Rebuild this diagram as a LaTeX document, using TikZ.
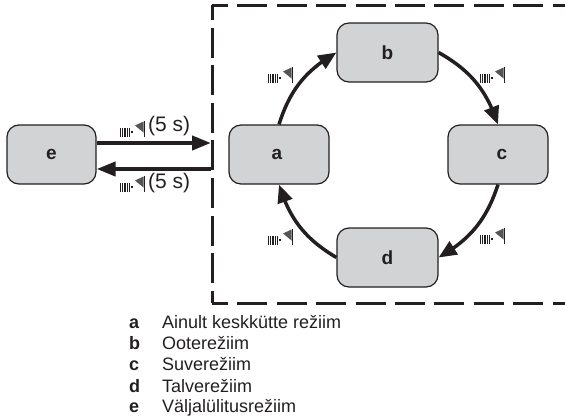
\documentclass[tikz,border=0pt]{standalone}
\usepackage{fontspec}
\setmainfont{Liberation Sans}
\usetikzlibrary{arrows.meta,bending}
\definecolor{ink}{HTML}{231F20}
\definecolor{boxfill}{HTML}{D1D3D4}
\definecolor{flagfill}{HTML}{555557}
\tikzset{
  x=1pt,y=-1pt,
  modebox/.style={draw=ink,fill=boxfill,line width=1.2pt,rounded corners=12pt,minimum width=#1,minimum height=59pt,inner sep=0pt,text=ink,font=\fontsize{19}{22}\selectfont\bfseries},
  modebox/.default=100pt,
  flow/.style={draw=ink,line width=3.5pt,-{Triangle[length=18pt,width=15pt,flex]}},
  link/.style={draw=ink,line width=4pt,-{Triangle[length=19pt,width=14pt]}},
  frameline/.style={draw=ink,line width=3pt},
  legkey/.style={anchor=base west,inner sep=0pt,text=ink,font=\fontsize{18}{20}\selectfont\bfseries},
  legtxt/.style={anchor=base west,inner sep=0pt,text=ink,font=\fontsize{18}{20}\selectfont},
  timelbl/.style={anchor=west,inner sep=0pt,text=ink,font=\fontsize{21}{24}\selectfont},
  pics/keyicon/.style={code={
    \foreach \bx in {0,2.2,4.4,6.6,8.8}{\fill[ink] (\bx,0) rectangle (\bx+1.2,-9);}
    \fill[ink] (11.4,-5.6) rectangle (12.6,-4.4);
    \fill[flagfill] (15,-11.5) -- (23.5,-15.5) -- (23.5,-4.5) -- cycle;
    \fill[ink] (23.5,-16) rectangle (25,0);
  }}
}
\begin{document}
\begin{tikzpicture}
\useasboundingbox (0,0) rectangle (565,418);
% dashed frame, open to the right
\draw[frameline,dash pattern=on 30pt off 9.4pt,dash phase=14pt] (212,5) -- (565,5);
\draw[frameline,dash pattern=on 30pt off 9.4pt,dash phase=14pt] (212,303) -- (565,303);
\draw[frameline,dash pattern=on 30pt off 7.6pt,dash phase=15pt] (212,5) -- (212,303);
% nodes
\node[modebox=89pt] (e) at (51.5,154.5) {e};
\node[modebox] (a) at (279,154.5) {\hspace*{-4pt}a};
\node[modebox] (c) at (498,154.5) {\hspace*{8pt}c};
\node[modebox=101pt] (b) at (387.5,52.5) {b};
\node[modebox=101pt] (d) at (387.5,257.5) {d};
% frame ends of the two links
\coordinate (in) at (211,143);
\coordinate (out) at (211,169);
% connectors
\draw[flow] (a.north) to[bend left=21] (b.west);
\draw[flow] (b.east) to[bend left=21] (c.north);
\draw[flow] (c.south) to[bend left=21] (d.east);
\draw[flow] (d.west) to[bend left=21] (a.south);
\draw[link] (e.east |- in) -- (in);
\draw[link] (out) -- (e.east |- out);
% icons
\pic at (268,83) {keyicon};
\pic at (480,83) {keyicon};
\pic at (480,244) {keyicon};
\pic at (268,245) {keyicon};
\pic at (120,137) {keyicon};
\pic at (120,192) {keyicon};
\node[timelbl] (t1) at (148,126) {(5 s)};
\node[timelbl] (t2) at (148,183) {(5 s)};
% legend
\node[legkey] (ka) at (129,328) {a}; \node[legtxt] (ta) at (162,328) {Ainult keskkütte režiim};
\node[legkey] (kb) at (129,349) {b}; \node[legtxt] (tb) at (162,349) {Ooterežiim};
\node[legkey] (kc) at (129,370) {c}; \node[legtxt] (tc) at (162,370) {Suverežiim};
\node[legkey] (kd) at (129,392) {d}; \node[legtxt] (td) at (162,392) {Talverežiim};
\node[legkey] (ke) at (129,412) {e}; \node[legtxt] (te) at (162,412) {Väljalülitusrežiim};
\end{tikzpicture}
\end{document}
